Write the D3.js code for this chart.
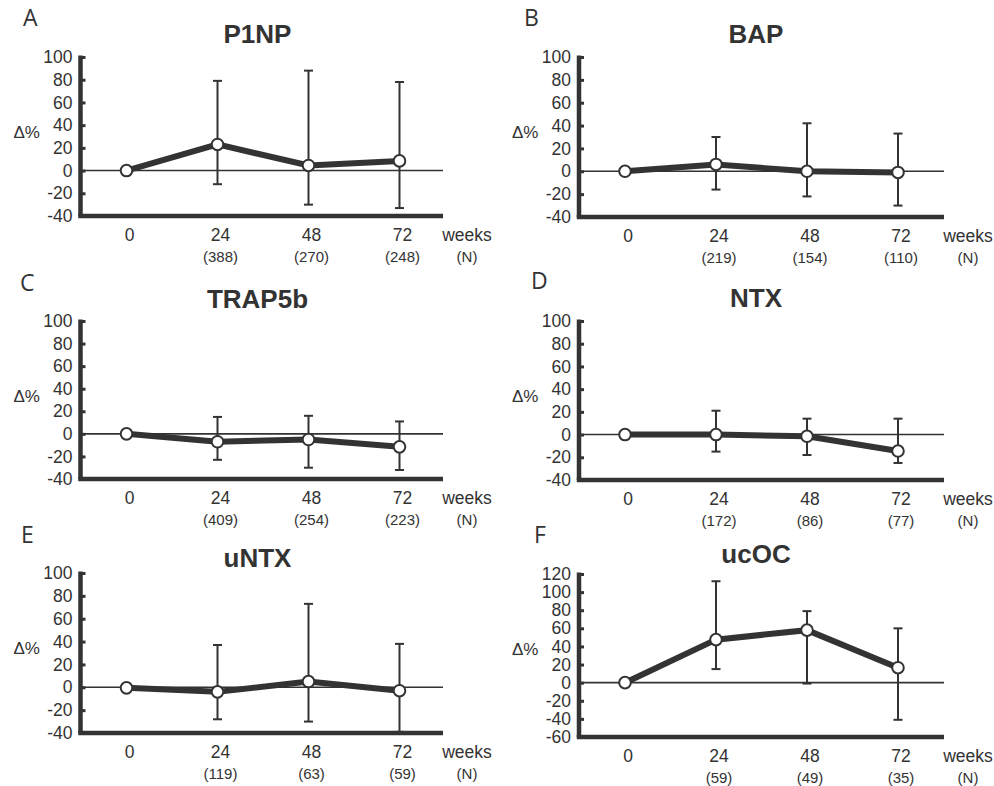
<!DOCTYPE html>
<html>
<head>
<meta charset="utf-8">
<script src="https://cdn.jsdelivr.net/npm/d3@7"></script>
<style>
  body { margin: 0; background: #fff; }
  svg text { fill: #333; font-family: "Liberation Sans", Arial, sans-serif; }
  .letter { font-family: "Open Sans", sans-serif; font-size: 23px; }
  .title { font-size: 26px; font-weight: bold; }
  .tick text { font-size: 17.5px; }
</style>
</head>
<body>
<div id="chart"></div>
<script>
// time points (weeks) and panel names
var weeks = [0, 24, 48, 72];
var panel_letters = ["A", "B", "C", "D", "E", "F"];
var marker_names = ["P1NP", "BAP", "TRAP5b", "NTX", "uNTX", "ucOC"];

// mean change (%) and error bar ends
var p1np_mean  = [0, 23, 4.5, 8.5];
var p1np_upper = [0, 79, 88, 78];
var p1np_lower = [0, -12, -30, -33];
var p1np_n     = [388, 270, 248];

var bap_mean  = [0, 6, 0, -1];
var bap_upper = [0, 30, 42, 33];
var bap_lower = [0, -16, -22, -30];
var bap_n     = [219, 154, 110];

var trap_mean  = [0, -7, -5, -11.5];
var trap_upper = [0, 15, 16, 11];
var trap_lower = [0, -23, -30, -32];
var trap_n     = [409, 254, 223];

var ntx_mean  = [0, 0, -1.5, -14.5];
var ntx_upper = [0, 21, 14, 14];
var ntx_lower = [0, -15, -18, -25];
var ntx_n     = [172, 86, 77];

var untx_mean  = [-0.5, -4, 5, -3];
var untx_upper = [0, 37, 73, 38];
var untx_lower = [0, -28, -30, -39];
var untx_n     = [119, 63, 59];

var ucoc_mean  = [0, 47.5, 58, 16.5];
var ucoc_upper = [0, 112, 79, 60];
var ucoc_lower = [0, 15, -1, -41];
var ucoc_n     = [59, 49, 35];

// y tick labels
var y_ticks_default = [-40, -20, 0, 20, 40, 60, 80, 100];
var y_ticks_ucoc = [-60, -40, -20, 0, 20, 40, 60, 80, 100, 120];

var series = [
    [p1np_mean, p1np_upper, p1np_lower, p1np_n, y_ticks_default],
    [bap_mean, bap_upper, bap_lower, bap_n, y_ticks_default],
    [trap_mean, trap_upper, trap_lower, trap_n, y_ticks_default],
    [ntx_mean, ntx_upper, ntx_lower, ntx_n, y_ticks_default],
    [untx_mean, untx_upper, untx_lower, untx_n, y_ticks_default],
    [ucoc_mean, ucoc_upper, ucoc_lower, ucoc_n, y_ticks_ucoc]
];

// where each panel sits on the page
var boxes = [
    {ax: 80.5, top: 57,  bottom: 216, end: 443, title_y: 43,  lx: 23,  ly: 26},
    {ax: 579,  top: 57,  bottom: 217, end: 944, title_y: 43,  lx: 524, ly: 26},
    {ax: 80.5, top: 321, bottom: 479, end: 443, title_y: 308, lx: 20,  ly: 291},
    {ax: 579,  top: 321, bottom: 480, end: 944, title_y: 307, lx: 531, ly: 289},
    {ax: 80.5, top: 573, bottom: 733, end: 443, title_y: 567, lx: 21,  ly: 543},
    {ax: 579,  top: 574, bottom: 737, end: 944, title_y: 563, lx: 534, ly: 543}
];

var colour = "#333";
var width = 994, height = 786;

var svg = d3.select("#chart").append("svg")
    .attr("width", width)
    .attr("height", height);

function draw_panel(i)
{
    var box = boxes[i];
    var mean = series[i][0], upper = series[i][1], lower = series[i][2];
    var counts = series[i][3], ticks = series[i][4];

    var x = d3.scaleLinear()
        .domain([0, 72])
        .range([box.ax + 46, box.ax + 319]);
    var y = d3.scaleLinear()
        .domain([ticks[0], ticks[ticks.length - 1]])
        .range([box.bottom, box.top]);

    var g = svg.append("g");

    g.append("text")
        .attr("class", "letter")
        .attr("x", box.lx)
        .attr("y", box.ly)
        .text(panel_letters[i]);

    g.append("text")
        .attr("class", "title")
        .attr("x", box.ax + 177)
        .attr("y", box.title_y)
        .attr("text-anchor", "middle")
        .text(marker_names[i]);

    // zero reference line
    g.append("line")
        .attr("x1", box.ax).attr("x2", box.end)
        .attr("y1", y(0)).attr("y2", y(0))
        .attr("stroke", colour)
        .attr("stroke-width", 1.6);

    // y axis, ticks pointing inwards
    var yaxis = g.append("g")
        .attr("transform", "translate(" + box.ax + ",0)")
        .call(d3.axisLeft(y)
            .tickValues(ticks)
            .tickSize(-5)
            .tickSizeOuter(0)
            .tickPadding(8)
            .tickFormat(function(d) { return String(d); }));
    yaxis.select(".domain")
        .attr("stroke", colour)
        .attr("stroke-width", 4.5)
        .attr("d", "M0," + (box.top - 1.5) + "V" + box.bottom);
    yaxis.selectAll(".tick line")
        .attr("stroke", colour)
        .attr("stroke-width", 3);
    yaxis.selectAll(".tick text")
        .style("font-size", "17.5px");

    g.append("text")
        .attr("x", box.ax - 67)
        .attr("y", box.top + 81)
        .style("font-size", "17px")
        .text("\u0394%");

    // x axis line
    g.append("line")
        .attr("x1", box.ax - 2.25).attr("x2", box.end)
        .attr("y1", box.bottom).attr("y2", box.bottom)
        .attr("stroke", colour)
        .attr("stroke-width", 4.5);

    // x labels
    g.selectAll(".wk")
        .data(weeks)
        .enter().append("text")
        .attr("x", function(d) { return x(d) + 3; })
        .attr("y", box.bottom + 25)
        .attr("text-anchor", "middle")
        .style("font-size", "17.5px")
        .text(function(d) { return d; });
    g.append("text")
        .attr("x", box.end + 24)
        .attr("y", box.bottom + 25)
        .attr("text-anchor", "middle")
        .style("font-size", "17.5px")
        .text("weeks");
    g.selectAll(".nlab")
        .data(counts)
        .enter().append("text")
        .attr("x", function(d, j) { return x(weeks[j + 1]) + 3; })
        .attr("y", box.bottom + 46)
        .attr("text-anchor", "middle")
        .style("font-size", "15px")
        .text(function(d) { return "(" + d + ")"; });
    g.append("text")
        .attr("x", box.end + 24)
        .attr("y", box.bottom + 46)
        .attr("text-anchor", "middle")
        .style("font-size", "15px")
        .text("(N)");

    // error bars
    var idx = d3.range(1, weeks.length);
    g.selectAll(".err")
        .data(idx)
        .enter().append("line")
        .attr("x1", function(j) { return x(weeks[j]); })
        .attr("x2", function(j) { return x(weeks[j]); })
        .attr("y1", function(j) { return y(upper[j]); })
        .attr("y2", function(j) { return y(lower[j]); })
        .attr("stroke", colour)
        .attr("stroke-width", 2);
    [upper, lower].forEach(function(arr)
    {
        g.selectAll(null)
            .data(idx)
            .enter().append("line")
            .attr("x1", function(j) { return x(weeks[j]) - 4.5; })
            .attr("x2", function(j) { return x(weeks[j]) + 4.5; })
            .attr("y1", function(j) { return y(arr[j]); })
            .attr("y2", function(j) { return y(arr[j]); })
            .attr("stroke", colour)
            .attr("stroke-width", 2);
    });

    // mean line
    var line = d3.line()
        .x(function(d, j) { return x(weeks[j]); })
        .y(function(d) { return y(d); });
    g.append("path")
        .datum(mean)
        .attr("d", line)
        .attr("fill", "none")
        .attr("stroke", colour)
        .attr("stroke-width", 6);

    g.selectAll(".pt")
        .data(mean)
        .enter().append("circle")
        .attr("cx", function(d, j) { return x(weeks[j]); })
        .attr("cy", function(d) { return y(d); })
        .attr("r", 5.8)
        .attr("fill", "#fff")
        .attr("stroke", colour)
        .attr("stroke-width", 2);
}

for (var i = 0; i < boxes.length; i++)
{
    draw_panel(i);
}
</script>
</body>
</html>
